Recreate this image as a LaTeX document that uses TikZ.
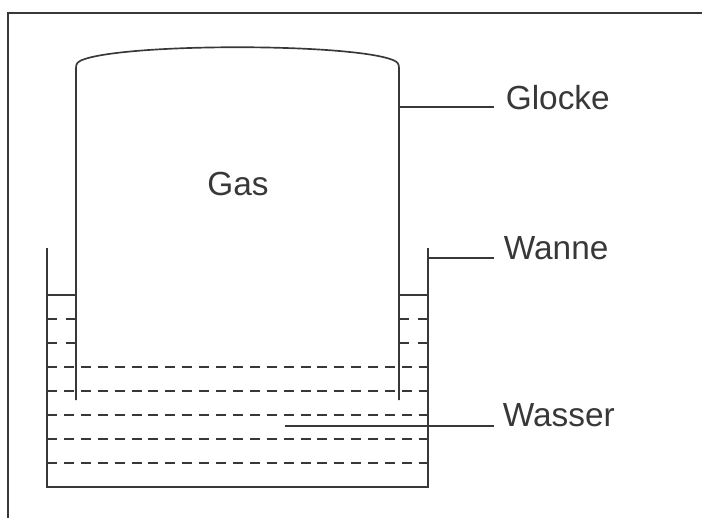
\documentclass[tikz,border=0pt]{standalone}
\usepackage{fontspec}
\setmainfont{Liberation Sans}
\definecolor{inkgray}{gray}{0.22}
\tikzset{
  waterline/.style={dash pattern=on 2mm off 1.38mm},
  shortline/.style={dash pattern=on 2mm off 1.7mm},
  partname/.style={anchor=west,inner sep=0pt,font=\fontsize{19}{22}\selectfont}
}

\begin{document}
\begin{tikzpicture}[line width=0.95pt,color=inkgray]
  \useasboundingbox (0,0) rectangle (14.04,10.36);
  % outer frame
  \draw (14.04,10.10) -- (0.16,10.10) -- (0.16,0);
  % tub
  \draw (0.94,5.40) -- (0.94,0.62) -- (8.56,0.62) -- (8.56,5.40);
  % bell
  \draw (1.52,2.36) -- (1.52,9.00) .. controls (1.52,9.10) and (1.56,9.12) .. (1.64,9.16)
    .. controls (2.50,9.50) and (7.00,9.50) .. (7.86,9.16)
    .. controls (7.94,9.12) and (7.98,9.10) .. (7.98,9.00) -- (7.98,2.36);
  % water surface beside the bell
  \draw (0.94,4.46) -- (1.52,4.46);
  \draw (7.98,4.46) -- (8.56,4.46);
  \foreach \y in {3.98,3.50} {
    \draw[shortline] (0.94,\y) -- (1.52,\y);
    \draw[shortline] (7.98,\y) -- (8.56,\y);
  }
  % water
  \foreach \y in {3.02,2.54,2.06,1.58,1.10}
    \draw[waterline] (0.94,\y) -- (8.56,\y);
  % labels
  \node (gas) at (4.76,6.68) [partname,anchor=center] {Gas};
  \node (glocke) at (10.10,8.40) [partname] {Glocke};
  \node (wanne) at (10.06,5.40) [partname] {Wanne};
  \node (wasser) at (10.04,2.06) [partname] {Wasser};
  % leader lines
  \coordinate (bellside) at (7.98,8.22);
  \coordinate (glockeend) at (9.88,8.22);
  \coordinate (tubside) at (8.56,5.20);
  \coordinate (wanneend) at (9.88,5.20);
  \coordinate (waterpoint) at (5.70,1.84);
  \coordinate (wasserend) at (9.88,1.84);
  \draw (bellside) -- (glockeend);
  \draw (tubside) -- (wanneend);
  \draw (waterpoint) -- (wasserend);
\end{tikzpicture}
\end{document}
